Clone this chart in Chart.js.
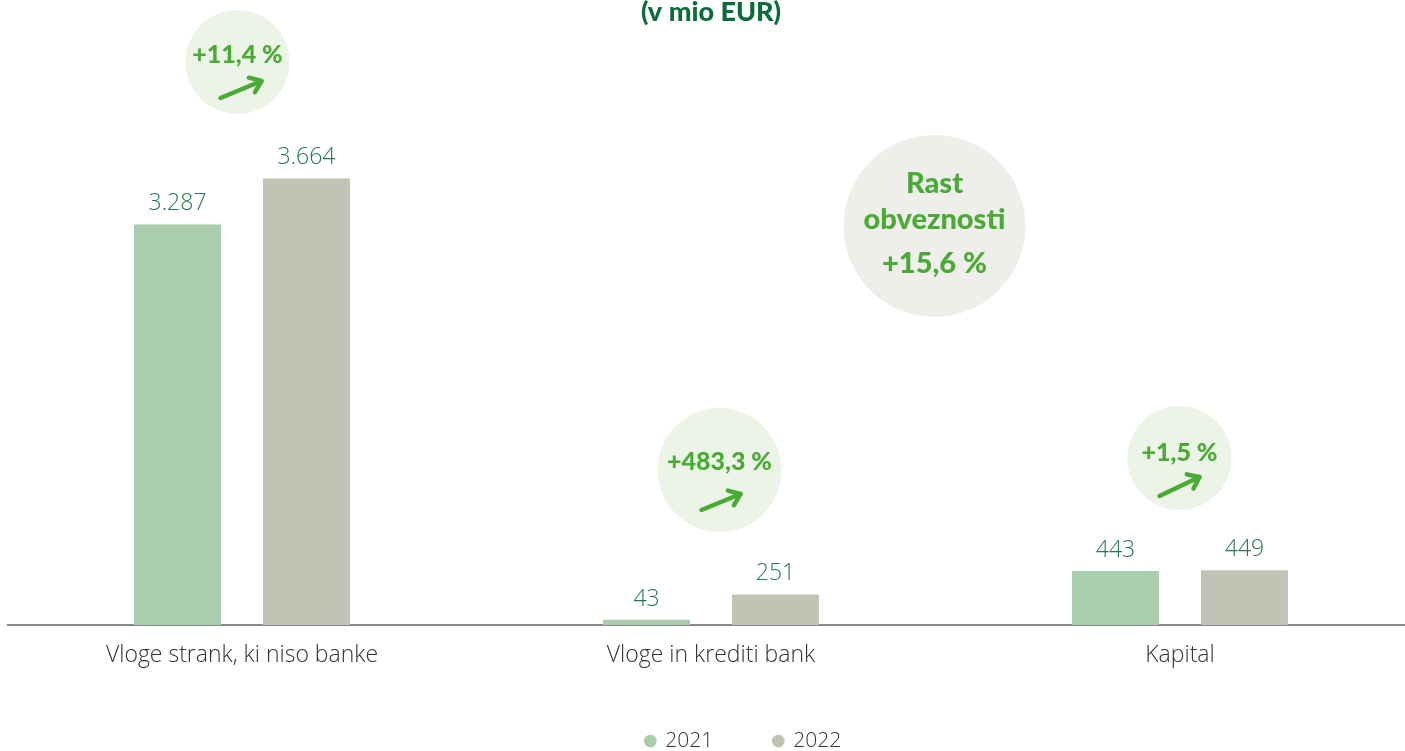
<!DOCTYPE html>
<html><head><meta charset="utf-8">
<script src="https://cdn.jsdelivr.net/npm/chart.js@4"></script>
<style>html,body{margin:0;padding:0;overflow:hidden;background:#fff;width:1405px;height:751px} #wrap{position:absolute;left:0;top:0;width:1487px;height:751px}</style>
</head><body><div id="wrap"><canvas id="c" width="1487" height="751"></canvas></div>
<script>
const categories = ['Vloge strank, ki niso banke', 'Vloge in krediti bank', 'Kapital'];
const seriesLabels = ['2021', '2022'];
const values2021 = [3287, 43, 443];
const values2022 = [3664, 251, 449];
const growthLabels = ['+11,4 %', '+483,3 %', '+1,5 %'];
const totalGrowthLines = ['Rast', 'obveznosti', '+15,6 %'];
const titleText = '(v mio EUR)';

const GREEN_TEXT = '#4aab34';
const fmt = v => String(v).replace(/\B(?=(\d{3})+(?!\d))/g, '.');

// decoration layout (badges), relative to category centre
const badges = [
  {dx: -4.5, cy: 62, r: 52, ty: 55, a: [-17, 36, 24, 19]},
  {dx: 8.5, cy: 470, r: 62, ty: 462, a: [-18, 40, 21, 24]},
  {dx: -0.5, cy: 458, r: 52, ty: 453, a: [-20, 38, 20, 19]}
];

function arrow(ctx, x1, y1, x2, y2) {
  ctx.save();
  ctx.strokeStyle = GREEN_TEXT; ctx.lineWidth = 4.5; ctx.lineCap = 'round'; ctx.lineJoin = 'round';
  ctx.beginPath(); ctx.moveTo(x1, y1); ctx.lineTo(x2, y2); ctx.stroke();
  const ang = Math.atan2(y2 - y1, x2 - x1), L = 13, s = 0.65;
  ctx.beginPath();
  ctx.moveTo(x2 - L * Math.cos(ang - s), y2 - L * Math.sin(ang - s));
  ctx.lineTo(x2, y2);
  ctx.lineTo(x2 - L * Math.cos(ang + s), y2 - L * Math.sin(ang + s));
  ctx.stroke();
  ctx.restore();
}

const decoPlugin = {
  id: 'deco',
  afterDatasetsDraw(chart) {
    const ctx = chart.ctx, xs = chart.scales.x;
    // value labels
    ctx.save();
    ctx.fillStyle = '#237a4e';
    ctx.font = '300 23px "Open Sans"';
    ctx.textAlign = 'center'; ctx.textBaseline = 'alphabetic';
    chart.data.datasets.forEach((ds, di) => {
      chart.getDatasetMeta(di).data.forEach((bar, i) => {
        ctx.fillText(fmt(ds.data[i]), bar.x, bar.y - 14);
      });
    });
    ctx.restore();
    // growth badges
    badges.forEach((b, i) => {
      const cx = xs.getPixelForValue(i) + b.dx;
      ctx.save();
      ctx.fillStyle = '#ebf4e7';
      ctx.beginPath(); ctx.arc(cx, b.cy, b.r, 0, Math.PI * 2); ctx.fill();
      ctx.fillStyle = GREEN_TEXT;
      ctx.font = '900 25px Lato';
      ctx.textAlign = 'center'; ctx.textBaseline = 'middle';
      ctx.fillText(growthLabels[i], cx, b.ty);
      ctx.restore();
      arrow(ctx, cx + b.a[0], b.cy + b.a[1], cx + b.a[2], b.cy + b.a[3]);
    });
    // total growth circle
    const bx = xs.getPixelForValue(1) + 223.5, by = 226;
    ctx.save();
    ctx.fillStyle = '#eeeeea';
    ctx.beginPath(); ctx.arc(bx, by, 91, 0, Math.PI * 2); ctx.fill();
    ctx.fillStyle = GREEN_TEXT;
    ctx.font = '900 29px Lato';
    ctx.textAlign = 'center'; ctx.textBaseline = 'alphabetic';
    const baselines = [193, 229, 273];
    totalGrowthLines.forEach((t, k) => ctx.fillText(t, bx, baselines[k]));
    ctx.restore();
  }
};

new Chart(document.getElementById('c'), {
  type: 'bar',
  data: {
    labels: categories,
    datasets: [
      {label: seriesLabels[0], data: values2021, backgroundColor: '#aacdad', borderWidth: 0,
       categoryPercentage: 0.55, barPercentage: 0.674},
      {label: seriesLabels[1], data: values2022, backgroundColor: '#c1c4b4', borderWidth: 0,
       categoryPercentage: 0.55, barPercentage: 0.674}
    ]
  },
  options: {
    responsive: false,
    devicePixelRatio: 1,
    animation: false,
    layout: {padding: 0},
    scales: {
      x: {
        grid: {display: false, drawTicks: false},
        border: {display: true, color: '#8a8a8a', width: 2},
        ticks: {color: '#333', font: {family: 'Open Sans', size: 23, weight: 300}, padding: 17},
        afterFit(s) { s.height = 45; }
      },
      y: {
        position: 'left', min: 0, max: 4800,
        ticks: {display: false}, grid: {display: false}, border: {display: false},
        afterFit(s) { s.width = 7.5; }
      },
      yR: {
        position: 'right', min: 0, max: 1,
        ticks: {display: false}, grid: {display: false}, border: {display: false},
        afterFit(s) { s.width = 72.5; }
      }
    },
    plugins: {
      title: {
        display: true, text: titleText, fullSize: false, color: '#0b6b3a',
        font: {family: 'Lato', size: 27, weight: 900, lineHeight: 1},
        padding: {top: -1, bottom: 14}
      },
      legend: {
        position: 'bottom', maxHeight: 81,
        labels: {
          usePointStyle: true, pointStyle: 'circle', boxWidth: 9, boxHeight: 9,
          padding: 60.5, color: '#333', font: {family: 'Open Sans', size: 21, weight: 300}
        }
      },
      tooltip: {enabled: false}
    }
  },
  plugins: [decoPlugin]
});
</script>
</body></html>
